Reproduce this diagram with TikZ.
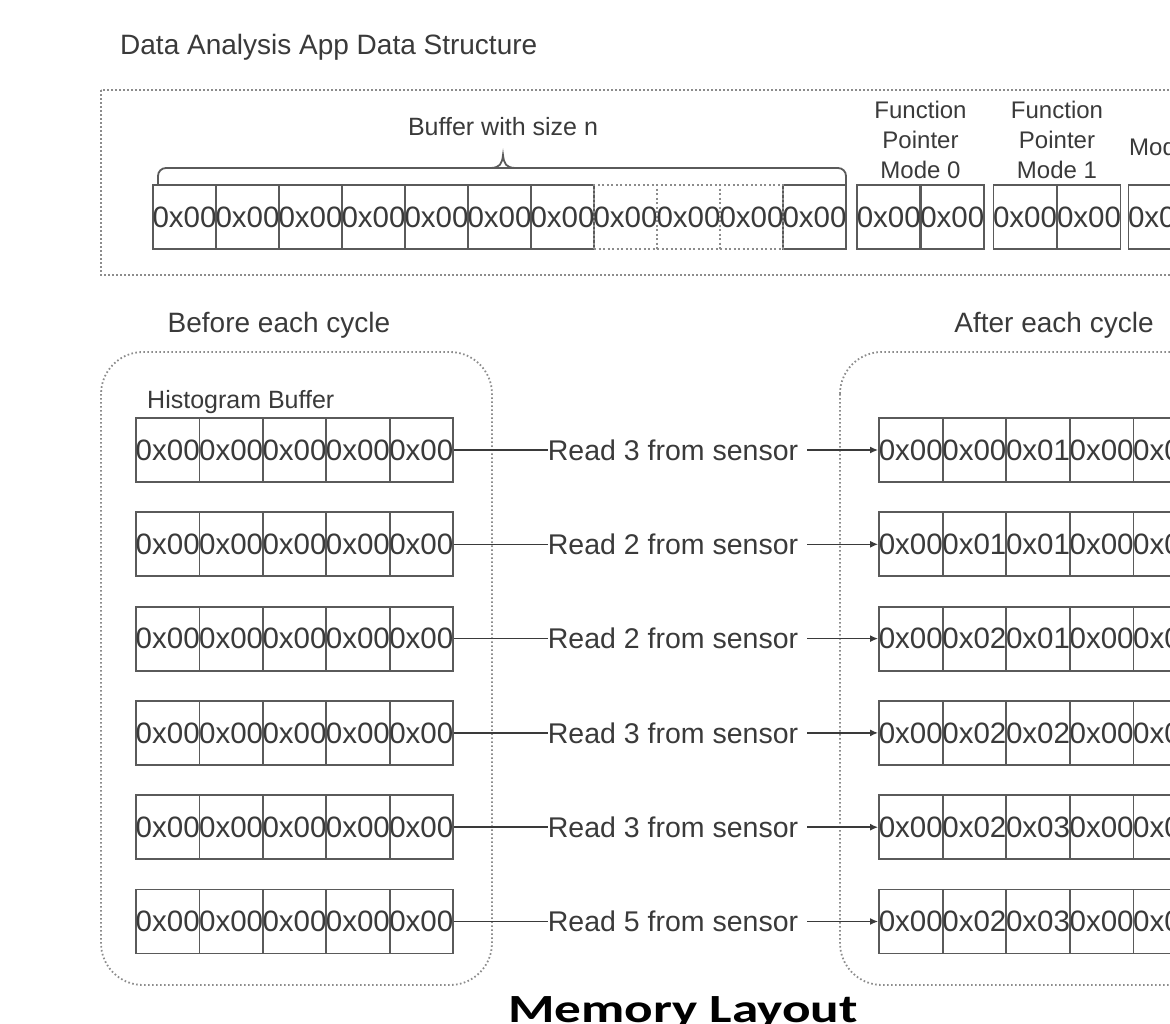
\documentclass[tikz,border=0pt]{standalone}
\usepackage{graphicx}
\usepackage{fontspec}
\setmainfont{Liberation Sans}
\newfontfamily\capfont{Carlito}
\usetikzlibrary{arrows.meta}
\definecolor{ink}{HTML}{3A3A3A}
\definecolor{cellline}{HTML}{5A5A5A}
\definecolor{dotc}{HTML}{8C8C8C}
\newcommand\myfs[1]{\fontsize{#1}{#1}\selectfont}
\begin{document}
\begin{tikzpicture}[x=1pt,y=-1pt,
  cell/.style={draw=cellline, line width=1.8pt, minimum width=63pt, minimum height=64pt,
    inner sep=0pt, text=ink, font=\myfs{29.5}},
  dcell/.style={cell, draw=dotc, dash pattern=on 2pt off 2.5pt},
  dotbox/.style={draw=dotc, line width=1.8pt, dash pattern=on 1.6pt off 2.4pt},
  lbl/.style={text=ink, inner sep=0pt},
  conn/.style={draw=ink, line width=1.5pt},
  tip/.style={-{Latex[length=8pt,width=7pt]}}
]
\useasboundingbox (0,0) rectangle (1170,1023);
\fill[white] (0,0) rectangle (1170,1023);
\clip (0,0) rectangle (1170,1023);

% ---- top section ----
\node[lbl, anchor=base west, font=\myfs{28}] (title) at (120,54) {Data Analysis App Data Structure};
\draw[dotbox] (101,90) rectangle (1300,275);

\node[lbl, anchor=base, font=\myfs{25}] (buflbl) at (503,135) {Buffer with size n};
\draw[cellline, line width=1.8pt, rounded corners=8pt] (158,184) -- (158,168) -- (846,168) -- (846,184);
\draw[cellline, line width=1.8pt] (491,168) .. controls (500,167.5) and (502,164) .. (503,155)
  .. controls (504,164) and (506,167.5) .. (515,168);

\foreach \i in {1,...,7,11}
  \node[cell] (b\i) at ({153+63*(\i-0.5)},217) {\makebox[0pt]{0x00}};
\foreach \i in {8,9,10}
  \node[dcell] (b\i) at ({153+63*(\i-0.5)},217) {\makebox[0pt]{0x00}};

\node[lbl, align=center, anchor=north, font=\fontsize{24}{30}\selectfont] (fp0) at (920.5,101) {Function\\Pointer\\Mode 0};
\node[lbl, align=center, anchor=north, font=\fontsize{24}{30}\selectfont] (fp1) at (1057,101) {Function\\Pointer\\Mode 1};
\node[lbl, anchor=base west, font=\myfs{24}] (md) at (1129,155) {Mode};

\node[cell] (f0a) at (888.75,217) {\makebox[0pt]{0x00}};
\node[cell] (f0b) at (952.25,217) {\makebox[0pt]{0x00}};
\node[cell] (f1a) at (1025,217) {\makebox[0pt]{0x00}};
\node[cell] (f1b) at (1089,217) {\makebox[0pt]{0x00}};
\node[cell] (f2a) at (1160,217) {\makebox[0pt]{0x00}};
\node[cell] (f2b) at (1224,217) {\makebox[0pt]{0x00}};

% ---- before / after ----
\node[lbl, anchor=base, font=\myfs{28}] (before) at (279,332) {Before each cycle};
\node[lbl, anchor=base, font=\myfs{28}] (after) at (1054,332) {After each cycle};
\draw[dotbox, rounded corners=42pt] (101,352) rectangle (492,985);
\draw[dotbox, rounded corners=42pt] (840,352) rectangle (1300,985);
\node[lbl, anchor=base west, font=\myfs{25}] (hist) at (147,408) {Histogram Buffer};

\foreach \r/\n/\va/\vb/\vc/\vd/\ve in {1/3/00/00/01/00/00, 2/2/00/01/01/00/00, 3/2/00/02/01/00/00,
    4/3/00/02/02/00/00, 5/3/00/02/03/00/00, 6/5/00/02/03/00/00} {
  \pgfmathsetmacro\yy{450+94.3*(\r-1)}
  \foreach \c in {1,...,5}
    \node[cell, minimum width=63.4pt] (L\r\c) at ({136+63.4*(\c-0.5)},\yy) {\makebox[0pt]{0x00}};
  \foreach \c/\v in {1/\va,2/\vb,3/\vc,4/\vd,5/\ve}
    \node[cell, minimum width=63.6pt] (R\r\c) at ({879+63.6*(\c-0.5)},\yy) {\makebox[0pt]{0x\v}};
  \node[lbl, font=\myfs{28.5}] (lab\r) at (673,\yy) {Read \n\ from sensor};
  \draw[conn] (L\r5.east) -- (lab\r.west);
  \draw[conn, tip, shorten <=9pt] (lab\r.east) -- (R\r1.west);
}

\node[anchor=base, inner sep=0pt, font=\capfont\bfseries\myfs{40}] (caption) at (683,1022)
  {\scalebox{1.33}[1]{Memory Layout}};
\end{tikzpicture}
\end{document}
